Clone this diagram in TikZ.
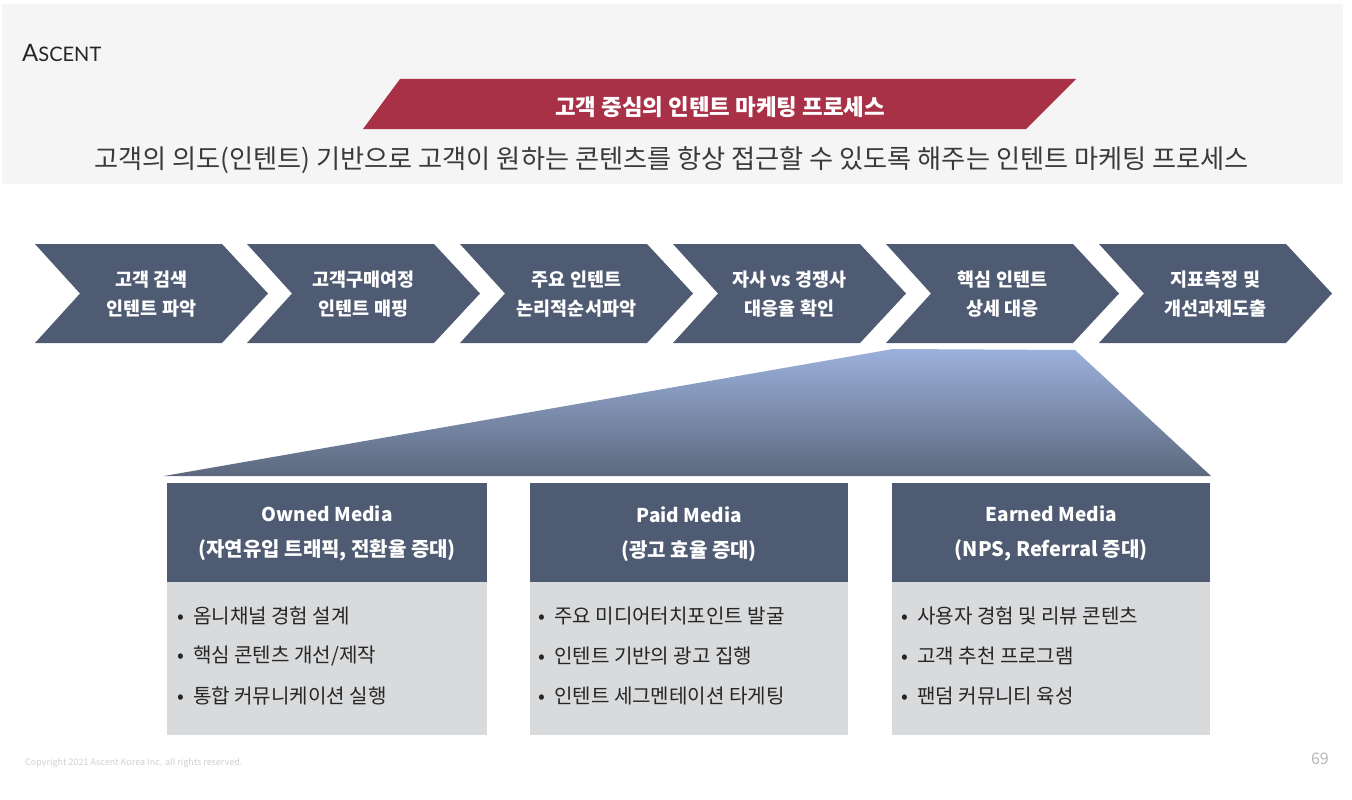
\documentclass[tikz,border=0pt]{standalone}
\usepackage{fontspec}
\setmainfont{Noto Sans CJK KR}
\newfontfamily\logofont{Lato}
\usetikzlibrary{calc}
\definecolor{slatebox}{HTML}{4E5B72}
\definecolor{redbar}{HTML}{A93147}
\definecolor{headband}{HTML}{F5F5F5}
\definecolor{greybox}{HTML}{D9DADC}
\definecolor{bodytext}{HTML}{3A3A3A}
\definecolor{toptrap}{HTML}{9BB0DB}
\definecolor{midtrap}{HTML}{8093BC}
\tikzset{
  x=1pt,y=-1pt,
  chev/.style={fill=slatebox,draw=none},
  chevtext/.style={text=white,font=\fontsize{18.5}{29}\selectfont\bfseries,align=center,inner sep=0pt},
  headbox/.style={fill=slatebox,draw=none,minimum width=320pt,minimum height=99pt,inner sep=0pt,text=white,align=center},
  headtext/.style={text=white,align=center,inner sep=0pt,font=\fontsize{20}{35}\selectfont\bfseries},
  listbox/.style={fill=greybox,draw=none,minimum width=320pt,minimum height=153pt,inner sep=0pt},
  item/.style={anchor=west,inner sep=0pt,text=black!85,font=\fontsize{20.1}{22}\selectfont}
}
\newcommand{\chevron}[2]{\fill[chev] (#1,244) -- ({#1+187},244) -- ({#1+233},293.5) -- ({#1+187},343) -- (#1,343) -- ({#1+45},293.5) -- cycle;
  \node[chevtext] (#2) at ({#1+116.5},294.5)}
\begin{document}
\begin{tikzpicture}
\useasboundingbox (0,0) rectangle (1352,800);
\fill[white] (0,0) rectangle (1352,800);
\fill[headband] (2,4) rectangle (1343,184);
\node[inner sep=0pt,anchor=west,text=black!85] (logo) at (22,53) {\logofont\fontsize{24}{24}\selectfont A\fontsize{20}{24}\selectfont SCENT};
\fill[redbar] (400,79) -- (1076,79) -- (1026,129) -- (363,129) -- cycle;
\node[text=white,inner sep=0pt,font=\fontsize{22.4}{24}\selectfont\bfseries] (title) at (720,107) {고객 중심의 인텐트 마케팅 프로세스};
\node[text=bodytext,inner sep=0pt,font=\fontsize{26.2}{28}\selectfont] (subtitle) at (671.5,160) {고객의 의도(인텐트) 기반으로 고객이 원하는 콘텐츠를 항상 접근할 수 있도록 해주는 인텐트 마케팅 프로세스};
\chevron{35}{s1}{고객 검색\\인텐트 파악};
\chevron{247}{s2}{고객구매여정\\인텐트 매핑};
\chevron{460}{s3}{주요 인텐트\\논리적순서파악};
\chevron{673}{s4}{자사 vs 경쟁사\\대응율 확인};
\chevron{886}{s5}{핵심 인텐트\\상세 대응};
\chevron{1099}{s6}{지표측정 및\\개선과제도출};
\shade[top color=toptrap,middle color=midtrap,bottom color=slatebox!92!white] (893,349) -- (1075,350) -- (1211,476) -- (164,476) -- cycle;
\node[headbox,anchor=north west,minimum width=320pt] (h1) at (167,483) {};
\node[headbox,anchor=north west,minimum width=318pt] (h2) at (530,483) {};
\node[headbox,anchor=north west,minimum width=318pt] (h3) at (892,483) {};
\node[headtext] (t1) at ([yshift=-1pt]h1.center) {\fontsize{19}{35}\selectfont Owned Media\\\fontsize{20}{35}\selectfont (자연유입 트래픽, 전환율 증대)};
\node[headtext] (t2) at ([yshift=-1pt]h2.center) {\fontsize{19}{35}\selectfont Paid Media\\\fontsize{20}{35}\selectfont (광고 효율 증대)};
\node[headtext] (t3) at ([yshift=-1pt]h3.center) {\fontsize{19}{35}\selectfont Earned Media\\\fontsize{20}{35}\selectfont (NPS, Referral 증대)};
\node[listbox,anchor=north west,minimum width=320pt] (l1) at (167,582) {};
\node[listbox,anchor=north west,minimum width=318pt] (l2) at (530,582) {};
\node[listbox,anchor=north west,minimum width=318pt] (l3) at (892,582) {};
\node[item] (a1) at (177,616) {•\hspace{9pt}옴니채널 경험 설계};
\node[item] (a2) at (177,656) {•\hspace{9pt}핵심 콘텐츠 개선/제작};
\node[item] (a3) at (177,696) {•\hspace{9pt}통합 커뮤니케이션 실행};
\node[item] (b1) at (538,616) {•\hspace{9pt}주요 미디어터치포인트 발굴};
\node[item] (b2) at (538,656) {•\hspace{9pt}인텐트 기반의 광고 집행};
\node[item] (b3) at (538,696) {•\hspace{9pt}인텐트 세그멘테이션 타게팅};
\node[item] (c1) at (901,616) {•\hspace{9pt}사용자 경험 및 리뷰 콘텐츠};
\node[item] (c2) at (901,656) {•\hspace{9pt}고객 추천 프로그램};
\node[item] (c3) at (901,696) {•\hspace{9pt}팬덤 커뮤니티 육성};
\node[anchor=west,inner sep=0pt,text=black!18,font=\fontsize{9}{10}\selectfont] (copy) at (25,763) {Copyright 2021 Ascent Korea Inc. all rights reserved.};
\node[anchor=east,inner sep=0pt,text=black!28,font=\fontsize{16}{18}\selectfont] (page) at (1329,759) {69};
\end{tikzpicture}
\end{document}
